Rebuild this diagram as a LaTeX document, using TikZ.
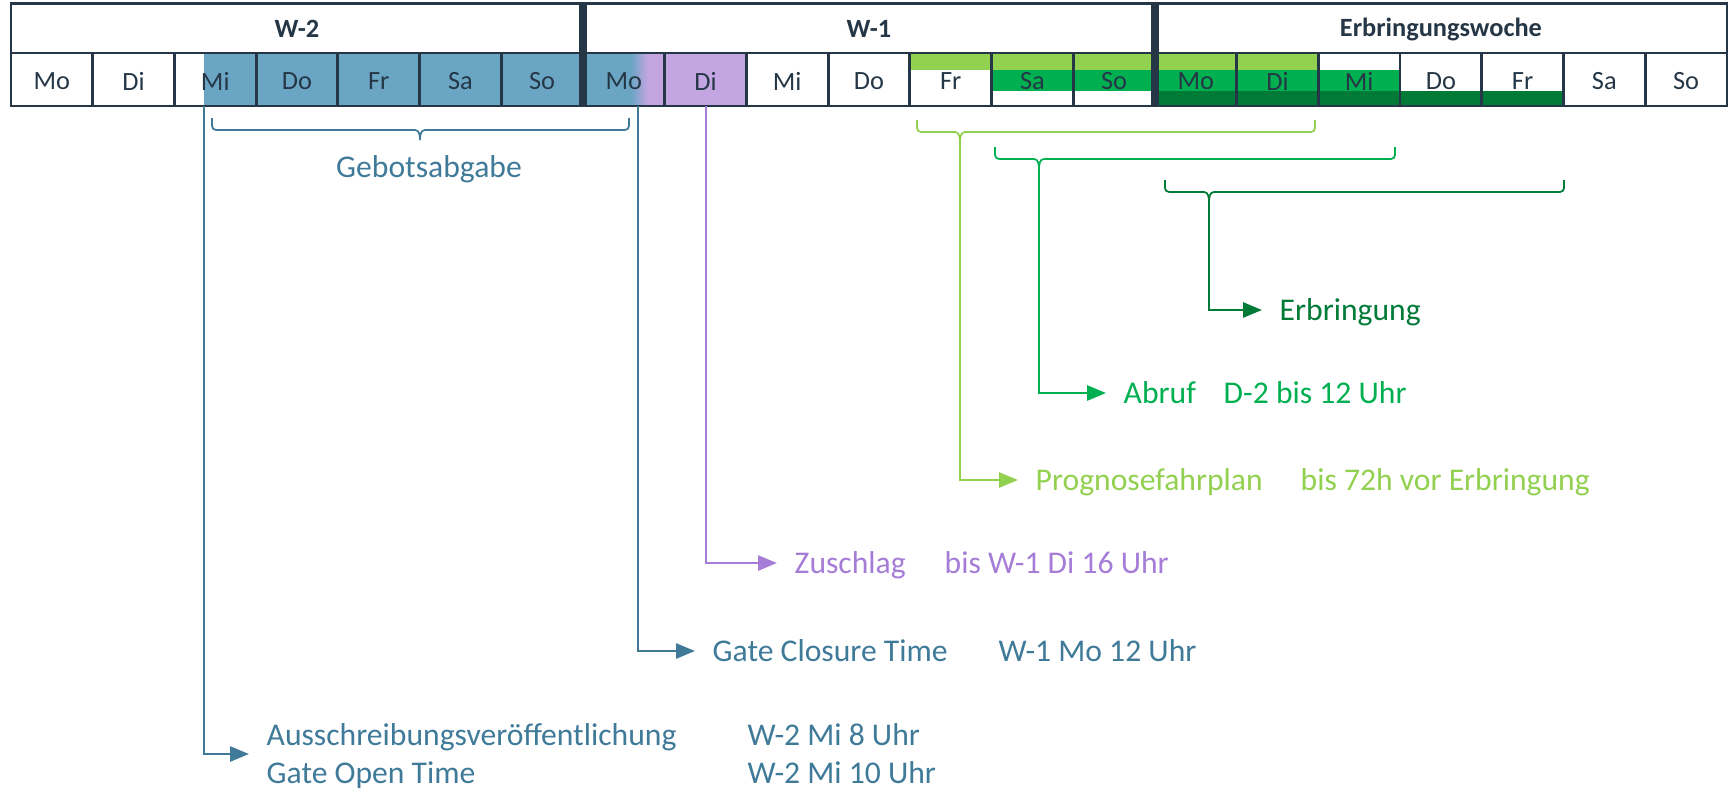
\documentclass[tikz,border=0pt]{standalone}
\usepackage{fontspec}
\setmainfont{Carlito}
\usetikzlibrary{arrows.meta, calc}
\definecolor{slate}{HTML}{253746}
\definecolor{gbfill}{HTML}{6BA5C4}
\definecolor{gbline}{HTML}{3F7A99}
\definecolor{zsfill}{HTML}{C3A5E2}
\definecolor{zsline}{HTML}{A57DD7}
\definecolor{pfgreen}{HTML}{92D050}
\definecolor{abgreen}{HTML}{00B050}
\definecolor{ergreen}{HTML}{007A37}
\tikzset{
 daylab/.style={font=\fontsize{7.5}{8}\selectfont, text=slate, inner sep=0pt},
 weeklab/.style={font=\fontsize{7.5}{9}\selectfont\bfseries, text=slate, inner sep=0pt},
 evlab/.style={anchor=west, inner xsep=0.17cm, inner ysep=0pt, text height=0.22cm, text depth=0.02cm, font=\fontsize{9}{11}\selectfont},
 conn/.style={line width=0.8pt, -{Triangle[length=0.19cm,width=0.15cm]}},
 grid/.style={draw=slate, line width=0.8pt}
}
% geschweifte Klammer: Name der Spitze, Farbe, links, rechts, Spitze x, oben y
\newcommand*{\klammer}[6]{%
 \draw[line width=0.5pt, #2] (#3,#6) -- ({#3},{#6-0.08}) to[out=-90,in=180] ({#3+0.04},{#6-0.12})
  -- ({#5-0.05},{#6-0.12}) to[out=0,in=90] ({#5},{#6-0.22})
  to[out=90,in=180] ({#5+0.05},{#6-0.12}) -- ({#4-0.04},{#6-0.12}) to[out=0,in=-90] ({#4},{#6-0.08}) -- (#4,#6);
 \coordinate (#1) at ({#5},{#6-0.22});}

\begin{document}
\begin{tikzpicture}
 \useasboundingbox (0,0) rectangle (17.29,-7.91);
 % Tabelle, x in Tagesbreiten
 \begin{scope}[shift={(0.11,0)}, x=0.8171cm]
  \fill[gbfill] (2.36,-0.53) rectangle (7.6,-1.06);
  \shade[left color=gbfill, right color=zsfill] (7.59,-0.53) rectangle (7.79,-1.06);
  \fill[zsfill] (7.78,-0.53) rectangle (9,-1.06);
  \fill[pfgreen] (11,-0.53) rectangle (16,-0.70);
  \fill[abgreen] (12,-0.70) rectangle (17,-0.91);
  \fill[ergreen] (14,-0.91) rectangle (19,-1.06);
  \draw[grid] (0,-0.033) rectangle (21,-1.06);
  \draw[grid] (0,-0.53) -- (21,-0.53);
  \foreach \i in {1,...,20}
   \draw[grid] (\i,-0.53) -- (\i,-1.06);
  \foreach \i in {7,14}
   \draw[slate, line width=2.2pt] (\i,-0.033) -- (\i,-1.06);
  \node[weeklab] (w2) at (3.5,-0.29) {W-2};
  \node[weeklab] (w1) at (10.5,-0.29) {W-1};
  \node[weeklab] (ew) at (17.5,-0.29) {Erbringungswoche};
  \foreach \tag [count=\i from 0] in {Mo,Di,Mi,Do,Fr,Sa,So,Mo,Di,Mi,Do,Fr,Sa,So,Mo,Di,Mi,Do,Fr,Sa,So}
   \node[daylab] (d\i) at (\i+0.5,-0.81) {\tag};
 \end{scope}

 % Klammern
 \klammer{gb-tip}{gbline}{2.12}{6.29}{4.20}{-1.18}
 \node[font=\fontsize{9}{11}\selectfont, text=gbline] (gb) at (4.29,-1.69) {Gebotsabgabe};
 \klammer{pf-tip}{pfgreen}{9.17}{13.15}{9.60}{-1.20}
 \klammer{ab-tip}{abgreen}{9.95}{13.95}{10.39}{-1.47}
 \klammer{er-tip}{ergreen}{11.65}{15.64}{12.09}{-1.80}

 % Startpunkte an der Tabelle
 \coordinate (pub-s) at (2.04,-1.06);
 \coordinate (gct-s) at (6.38,-1.06);
 \coordinate (zs-s) at (7.06,-1.06);

 % Ereignisse
 \node[evlab, text=ergreen] (er) at (12.62,-3.10) {Erbringung};
 \node[evlab, text=abgreen] (ab) at (11.06,-3.93) {Abruf};
 \node[evlab, text=abgreen] (abt) at (12.06,-3.93) {D-2 bis 12 Uhr};
 \node[evlab, text=pfgreen] (pf) at (10.18,-4.80) {Prognosefahrplan};
 \node[evlab, text=pfgreen] (pft) at (12.83,-4.80) {bis 72h vor Erbringung};
 \node[evlab, text=zsline] (zs) at (7.77,-5.63) {Zuschlag};
 \node[evlab, text=zsline] (zst) at (9.27,-5.63) {bis W-1 Di 16 Uhr};
 \node[evlab, text=gbline] (gct) at (6.95,-6.51) {Gate Closure Time};
 \node[evlab, text=gbline] (gctt) at (9.81,-6.51) {W-1 Mo 12 Uhr};
 \node[evlab, text=gbline] (pub) at (2.49,-7.35) {Ausschreibungsveröffentlichung};
 \node[evlab, text=gbline] (got) at (2.49,-7.73) {Gate Open Time};
 \node[evlab, text=gbline] (pubt) at (7.30,-7.35) {W-2 Mi 8 Uhr};
 \node[evlab, text=gbline] (gott) at (7.30,-7.73) {W-2 Mi 10 Uhr};

 \draw[conn, ergreen] (er-tip) |- (er);
 \draw[conn, abgreen] (ab-tip) |- (ab);
 \draw[conn, pfgreen] (pf-tip) |- (pf);
 \draw[conn, zsline] (zs-s) |- (zs);
 \draw[conn, gbline] (gct-s) |- (gct);
 \draw[conn, gbline] (pub-s) |- ($(pub.west)!0.5!(got.west)$);
\end{tikzpicture}
\end{document}
